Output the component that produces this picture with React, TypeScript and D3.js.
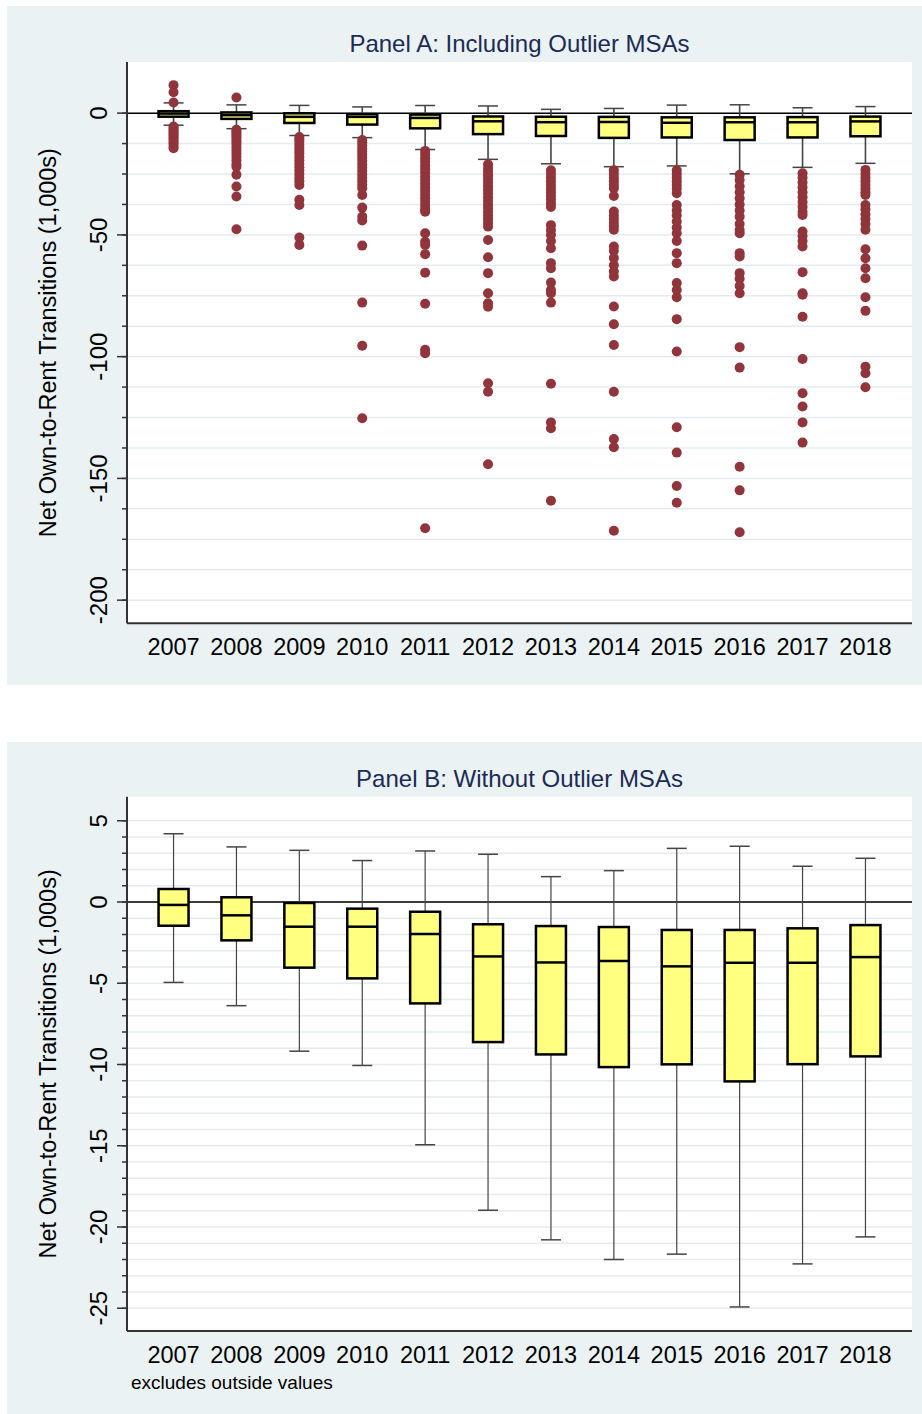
import React from 'react';
import * as d3 from 'd3';

const years = ['2007', '2008', '2009', '2010', '2011', '2012', '2013', '2014', '2015', '2016', '2017', '2018'];

// box statistics (1,000s), same in both panels
const upperWhisker = [4.2, 3.39, 3.18, 2.55, 3.14, 2.94, 1.56, 1.93, 3.3, 3.43, 2.2, 2.69];
const q3 = [0.8, 0.29, -0.06, -0.41, -0.6, -1.37, -1.48, -1.54, -1.72, -1.72, -1.62, -1.42];
const median = [-0.18, -0.82, -1.52, -1.52, -1.97, -3.35, -3.72, -3.63, -3.96, -3.74, -3.74, -3.39];
const q1 = [-1.46, -2.36, -4.04, -4.7, -6.24, -8.62, -9.38, -10.16, -9.99, -11.04, -9.98, -9.5];
const lowerWhisker = [-4.95, -6.38, -9.18, -10.06, -14.94, -18.97, -20.79, -22.0, -21.67, -24.92, -22.27, -20.61];

// outside values (Panel A only)
const outliers2007 = [11.5, 8.6, 4.4, -5.5, -6.1, -6.8, -7.5, -8.3, -9.1, -9.9, -10.7, -11.6, -12.5, -13.5, -14.4];
const outliers2008 = [6.4, -6.8, -7.5, -8.3, -9.2, -10.0, -11.0, -12.0, -13.0, -14.2, -15.4, -16.7, -18.0, -19.5, -21.0, -22.0, -25.3, -30.1, -34.2, -47.7];
const outliers2009 = [-9.8, -10.8, -11.8, -13.0, -14.2, -15.4, -16.6, -18.0, -19.4, -20.8, -22.2, -23.6, -25.0, -26.5, -28.0, -29.5, -35.6, -37.7, -51.1, -54.1];
const outliers2010 = [-11.0, -12.2, -13.4, -14.6, -15.8, -17.0, -18.3, -19.6, -21.0, -22.4, -23.8, -25.2, -26.6, -28.0, -29.4, -30.8, -33.6, -38.8, -42.5, -44.1, -54.4, -77.8, -95.5, -125.3];
const outliers2011 = [-15.5, -17.0, -18.5, -20.0, -21.5, -23.0, -24.5, -26.0, -27.5, -29.0, -30.5, -32.0, -33.5, -35.0, -36.5, -38.0, -39.5, -40.5, -49.3, -52.8, -54.1, -57.9, -65.5, -78.3, -97.2, -98.6, -170.5];
const outliers2012 = [-21.0, -22.5, -24.0, -25.5, -27.0, -28.5, -30.0, -31.5, -33.0, -34.5, -36.0, -37.5, -39.0, -40.5, -42.0, -43.5, -45.0, -46.6, -52.1, -59.2, -65.7, -74.0, -78.1, -79.5, -110.9, -114.4, -144.2];
const outliers2013 = [-23.5, -25.0, -26.5, -28.0, -29.5, -31.0, -32.5, -34.0, -35.5, -37.0, -38.5, -46.0, -48.0, -50.0, -52.5, -55.5, -61.6, -63.7, -69.6, -72.6, -74.0, -77.8, -111.1, -127.0, -129.4, -159.2];
const outliers2014 = [-23.5, -25.0, -26.5, -28.0, -29.5, -30.8, -34.0, -40.4, -42.0, -43.5, -45.0, -46.5, -47.9, -54.8, -56.5, -59.5, -62.5, -65.0, -67.1, -79.4, -86.7, -95.2, -114.4, -133.8, -137.2, -171.5];
const outliers2015 = [-23.5, -25.0, -26.5, -28.0, -29.5, -31.0, -32.9, -37.7, -40.0, -42.0, -44.5, -47.0, -49.3, -52.5, -57.5, -61.6, -69.8, -72.6, -75.6, -84.6, -97.9, -129.0, -139.4, -153.1, -160.0];
const outliers2016 = [-25.3, -27.5, -30.0, -32.5, -35.0, -37.5, -40.0, -42.5, -45.5, -48.0, -49.3, -57.5, -58.9, -65.7, -68.0, -71.0, -74.0, -96.1, -104.5, -145.2, -154.9, -172.1];
const outliers2017 = [-24.7, -26.5, -28.5, -30.5, -32.5, -34.5, -36.5, -38.5, -40.5, -41.8, -48.6, -50.5, -52.5, -54.8, -65.3, -74.0, -74.6, -83.6, -101.0, -115.0, -120.5, -127.0, -135.3];
const outliers2018 = [-23.3, -25.0, -26.5, -28.0, -29.5, -31.0, -32.5, -33.6, -37.7, -39.5, -41.5, -43.5, -45.5, -47.9, -55.9, -59.6, -63.7, -67.8, -75.6, -81.2, -104.1, -106.8, -112.6];

const outliersByYear = [outliers2007, outliers2008, outliers2009, outliers2010, outliers2011, outliers2012,
  outliers2013, outliers2014, outliers2015, outliers2016, outliers2017, outliers2018];

const panelATicks = [0, -50, -100, -150, -200];
const panelBTicks = [5, 0, -5, -10, -15, -20, -25];

const FONT = 'Liberation Sans, Arial, Helvetica, sans-serif';
const BG = '#eaf2f3';
const GRID = '#e3ecef';
const BOX_FILL = '#ffff80';
const DOT = '#90353b';
const TITLE_COLOR = '#1c2b55';

const PLOT_LEFT = 127;
const PLOT_RIGHT = 912;

type PanelProps = {
  title: string;
  top: number;
  bottom: number;
  domain: [number, number];
  majorTicks: number[];
  minorStep: number;
  minorRange: [number, number];
  showOutliers: boolean;
  whiskerWidth: number;
  note?: string;
};

function Panel(p: PanelProps) {
  const x = d3.scalePoint<string>().domain(years).range([PLOT_LEFT, PLOT_RIGHT]).padding(0.74);
  const y = d3.scaleLinear().domain(p.domain).range([p.top, p.bottom]);
  const minor = d3.range(p.minorRange[0], p.minorRange[1] + 1e-9, p.minorStep);
  const boxW = 30;
  const capW = 20;
  const midY = (p.top + p.bottom) / 2;
  return (
    <g>
      <rect x={PLOT_LEFT} y={p.top} width={PLOT_RIGHT - PLOT_LEFT} height={p.bottom - p.top} fill="#ffffff" />
      {minor.map((v, i) => (
        <line key={'g' + i} x1={PLOT_LEFT} x2={PLOT_RIGHT} y1={y(v)} y2={y(v)} stroke={GRID} strokeWidth={1.5} />
      ))}
      {/* zero reference line */}
      <line x1={PLOT_LEFT} x2={PLOT_RIGHT} y1={y(0)} y2={y(0)} stroke="#000" strokeWidth={1.5} />
      {/* title */}
      <text x={(PLOT_LEFT + PLOT_RIGHT) / 2} y={p.top - 10} textAnchor="middle" fontFamily={FONT} fontSize={24} fill={TITLE_COLOR}>{p.title}</text>
      {/* boxes */}
      {years.map((yr, i) => {
        const cx = x(yr) as number;
        return (
          <g key={yr}>
            <line x1={cx} x2={cx} y1={y(upperWhisker[i])} y2={y(q3[i])} stroke="#444" strokeWidth={p.whiskerWidth} />
            <line x1={cx} x2={cx} y1={y(q1[i])} y2={y(lowerWhisker[i])} stroke="#444" strokeWidth={p.whiskerWidth} />
            <line x1={cx - capW / 2} x2={cx + capW / 2} y1={y(upperWhisker[i])} y2={y(upperWhisker[i])} stroke="#444" strokeWidth={1.5} />
            <line x1={cx - capW / 2} x2={cx + capW / 2} y1={y(lowerWhisker[i])} y2={y(lowerWhisker[i])} stroke="#444" strokeWidth={1.5} />
            <rect x={cx - boxW / 2} y={y(q3[i])} width={boxW} height={y(q1[i]) - y(q3[i])} fill={BOX_FILL} stroke="#000" strokeWidth={2.5} />
            <line x1={cx - boxW / 2} x2={cx + boxW / 2} y1={y(median[i])} y2={y(median[i])} stroke="#000" strokeWidth={2.5} />
            {p.showOutliers && outliersByYear[i].map((v, j) => (
              <circle key={j} cx={cx} cy={y(v)} r={5} fill={DOT} />
            ))}
          </g>
        );
      })}
      {/* axes */}
      <line x1={PLOT_LEFT} x2={PLOT_LEFT} y1={p.top} y2={p.bottom} stroke="#333" strokeWidth={2} />
      <line x1={PLOT_LEFT} x2={PLOT_RIGHT} y1={p.bottom} y2={p.bottom} stroke="#333" strokeWidth={2} />
      {minor.map((v, i) => (
        <line key={'m' + i} x1={PLOT_LEFT - 5} x2={PLOT_LEFT} y1={y(v)} y2={y(v)} stroke="#333" strokeWidth={1.5} />
      ))}
      {p.majorTicks.map((v) => (
        <g key={'t' + v}>
          <line x1={PLOT_LEFT - 10} x2={PLOT_LEFT} y1={y(v)} y2={y(v)} stroke="#333" strokeWidth={1.5} />
          <text transform={`translate(107,${y(v)}) rotate(-90)`} textAnchor="middle" fontFamily={FONT} fontSize={24} fill="#000">{d3.format('')(v).replace('-', '\u2212') === '' ? '' : String(v).replace('-', '-')}</text>
        </g>
      ))}
      {years.map((yr) => (
        <text key={'x' + yr} x={x(yr) as number} y={p.bottom + 32} textAnchor="middle" fontFamily={FONT} fontSize={23.5} fill="#000">{yr}</text>
      ))}
      <text transform={`translate(56,${midY}) rotate(-90)`} textAnchor="middle" fontFamily={FONT} fontSize={23.5} fill="#000">Net Own-to-Rent Transitions (1,000s)</text>
      {p.note && (
        <text x={131} y={p.bottom + 58} fontFamily={FONT} fontSize={19} fill="#000">{p.note}</text>
      )}
    </g>
  );
}

export default function App() {
  return (
    <svg width={922} height={1414} style={{ position: 'absolute', left: 0, top: 0, background: '#ffffff' }}>
      <rect x={7} y={6} width={915} height={679} fill={BG} />
      <rect x={7} y={742} width={915} height={672} fill={BG} />
      <Panel
        title="Panel A: Including Outlier MSAs"
        top={62}
        bottom={623.3}
        domain={[21, -209.5]}
        majorTicks={panelATicks}
        minorStep={12.5}
        minorRange={[-200, 0]}
        showOutliers={true}
        whiskerWidth={1.6}
      />
      <Panel
        title="Panel B: Without Outlier MSAs"
        top={796.7}
        bottom={1331}
        domain={[6.48, -26.4]}
        majorTicks={panelBTicks}
        minorStep={1}
        minorRange={[-25, 5]}
        showOutliers={false}
        whiskerWidth={1.2}
        note="excludes outside values"
      />
    </svg>
  );
}
